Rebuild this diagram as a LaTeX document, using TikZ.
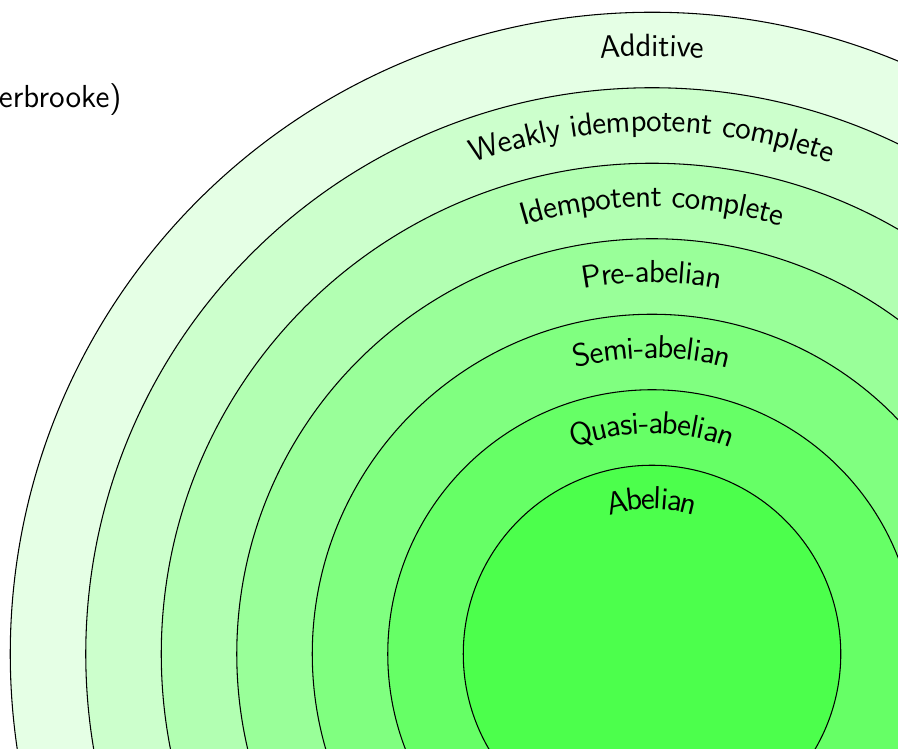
\documentclass[tikz,border=0pt]{standalone}
\usetikzlibrary{decorations.text}
\tikzset{
  ring/.style={draw=black, line width=0.4pt},
  arclabel/.style={decorate, decoration={text along path, text align=center, raise=-0.28cm, text={|\sffamily\large|#1}}}
}
\begin{document}
\begin{tikzpicture}
\useasboundingbox (-8.636,-1.258) rectangle (3.258,8.662);
\clip (-8.636,-1.258) rectangle (3.258,8.662);
\fill[white] (-8.636,-1.258) rectangle (3.258,8.662);
\draw[ring, fill=green!10] (0,0) circle (8.5);
\draw[ring, fill=green!20] (0,0) circle (7.5);
\draw[ring, fill=green!30] (0,0) circle (6.5);
\draw[ring, fill=green!40] (0,0) circle (5.5);
\draw[ring, fill=green!50] (0,0) circle (4.5);
\draw[ring, fill=green!60] (0,0) circle (3.5);
\draw[ring, fill=green!70] (0,0) circle (2.5);
\path[arclabel={Additive}] (-8.2,0) arc (180:0:8.2);
\path[arclabel={Weakly idempotent complete}] (-7.2,0) arc (180:0:7.2);
\path[arclabel={Idempotent complete}] (-6.2,0) arc (180:0:6.2);
\path[arclabel={Pre-abelian}] (-5.2,0) arc (180:0:5.2);
\path[arclabel={Semi-abelian}] (-4.2,0) arc (180:0:4.2);
\path[arclabel={Quasi-abelian}] (-3.2,0) arc (180:0:3.2);
\path[arclabel={Abelian}] (-2.2,0) arc (180:0:2.2);
\node[anchor=east, font=\sffamily\large, inner sep=0pt] (title) at (-7.02,7.34) {erbrooke)};
\end{tikzpicture}
\end{document}
